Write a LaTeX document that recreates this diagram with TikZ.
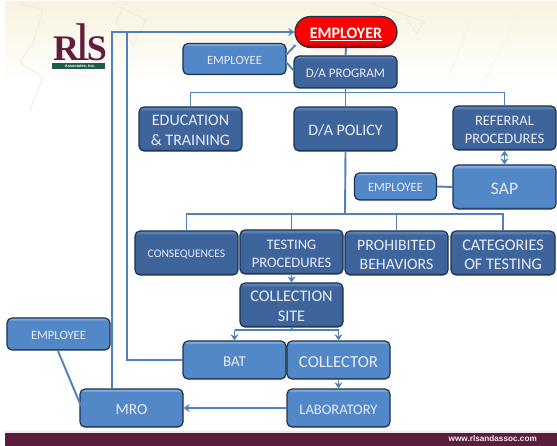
\documentclass[tikz,border=0pt]{standalone}
\usepackage{fontspec}
\setmainfont{Carlito}
\newfontfamily\serifr{Liberation Serif}
\newfontfamily\labelsans{Liberation Sans}
\usetikzlibrary{arrows.meta,shapes.misc}
\definecolor{dkedge}{HTML}{1B324F}
\definecolor{navyA}{HTML}{3D659B}
\definecolor{navyT}{HTML}{5B83B8}
\definecolor{navyB}{HTML}{2C4C78}
\definecolor{blueA}{HTML}{5287C8}
\definecolor{blueT}{HTML}{84ADDC}
\definecolor{blueB}{HTML}{3A6AA6}
\definecolor{linkc}{HTML}{4F81BD}
\definecolor{maroonbar}{HTML}{5C1C3C}
\definecolor{logoc}{HTML}{651B3D}
\definecolor{logog}{HTML}{1E5B48}
\definecolor{creamc}{HTML}{F8F3DF}
\definecolor{mapc}{HTML}{EFE6D8}
\pgfdeclareverticalshading{bevelnavy}{100bp}{color(0bp)=(navyB); color(26bp)=(navyB); color(28bp)=(navyA); color(71bp)=(navyA); color(73bp)=(navyT); color(100bp)=(navyT)}
\pgfdeclareverticalshading{bevelblue}{100bp}{color(0bp)=(blueB); color(26bp)=(blueB); color(28bp)=(blueA); color(71bp)=(blueA); color(73bp)=(blueT); color(100bp)=(blueT)}
\pgfdeclareverticalshading{bevelred}{100bp}{color(0bp)=(red!75!black); color(28bp)=(red!75!black); color(33bp)=(red); color(100bp)=(red)}
\tikzset{
  base/.style={draw=dkedge,line width=1.2pt,rounded corners=5pt,text=white!92!blue,align=center,inner sep=0pt},
  navybox/.style={base,shading=bevelnavy},
  bluebox/.style={base,shading=bevelblue},
  link/.style={draw=linkc,line width=1.9pt},
  tip/.style={link,-{Stealth[length=6pt,width=8pt]}},
  tips/.style={link,{Stealth[length=6pt,width=8pt]}-{Stealth[length=6pt,width=8pt]}},
  mapline/.style={draw=mapc,line width=.6pt},
  mapfaint/.style={draw=mapc!50,line width=.6pt},
}
\newcommand{\bx}[7]{\node[#1,minimum width=#4pt,minimum height=#5pt,#6] (#2) at (#3) {\rule{0pt}{.85em}#7};}
\begin{document}
\begin{tikzpicture}[x=1pt,y=-1pt]
\useasboundingbox (0,0) rectangle (557,446);
\fill[white] (0,0) rectangle (557,446);
\shade[top color=creamc,bottom color=white] (5,2) rectangle (557,85);
\draw[mapline] (20,3)--(43,10)--(33,43)--(20,62)--(43,78)--(30,110);
\draw[mapline] (112,3)--(146,20)--(133,45)--(116,23)--(123,7);
\draw[mapline] (370,3)--(425,22)--(416,33)--(406,17);
\draw[mapfaint] (470,20)--(450,75) (520,10)--(480,90) (230,70)--(250,40);
\fill[maroonbar] (5,433) rectangle (557,446);
\fill[white!90!maroonbar] (5,431) rectangle (557,433);
% logo
\fill[logog] (52,63) rectangle (105,69.5);
\node[inner sep=0pt,text=white,font=\labelsans\bfseries\fontsize{4}{4}\selectfont] (logotag) at (80,66.3) {Associates, Inc.};
\node[inner sep=0pt,anchor=base west,text=logoc,font=\serifr\bfseries\fontsize{36}{36}\selectfont] (logo) at (53,60.5) {R\kern-4pt{\mdseries\fontsize{53}{53}\selectfont l}\kern-3pt S};
\node[inner sep=0pt,text=white!90!gray,font=\labelsans\bfseries\fontsize{8.2}{8}\selectfont,anchor=east] (web) at (537,439) {www.rlsandassoc.com};
% boxes
\node[draw=dkedge,line width=1.2pt,rounded rectangle,shading=bevelred,text=white,inner sep=0pt,minimum width=102pt,minimum height=31pt,font=\bfseries\fontsize{16}{19}\selectfont] (employer) at (346,32) {\rule{0pt}{1em}\underline{EMPLOYER}};
\bx{navybox}{daprog}{345.5,72}{103}{32}{font=\fontsize{13}{15}\selectfont}{D/A PROGRAM}
\bx{bluebox}{emptop}{234.5,59}{103}{31}{font=\fontsize{12.6}{15}\selectfont}{EMPLOYEE}
\bx{navybox}{edu}{190.5,129}{103}{44}{font=\fontsize{16}{19.5}\selectfont}{EDUCATION\\\& TRAINING}
\bx{navybox}{policy}{345.5,129}{103}{44}{font=\fontsize{16}{19}\selectfont}{D/A POLICY}
\bx{navybox}{referral}{504.5,128}{103}{44}{font=\fontsize{14.5}{18}\selectfont}{REFERRAL\\PROCEDURES}
\bx{bluebox}{sap}{504.5,187}{103}{44}{font=\fontsize{17.5}{20}\selectfont}{SAP}
\bx{bluebox}{empmid}{395.5,186.5}{82}{27}{font=\fontsize{12.6}{15}\selectfont}{EMPLOYEE}
\bx{navybox}{conseq}{186.5,253}{103}{44}{font=\fontsize{11.6}{14}\selectfont}{CONSEQUENCES}
\bx{navybox}{testing}{291.5,252}{103}{44}{font=\fontsize{14.5}{18}\selectfont}{TESTING\\PROCEDURES}
\bx{navybox}{prohib}{396.5,253}{103}{44}{font=\fontsize{15.8}{19}\selectfont}{PROHIBITED\\BEHAVIORS}
\bx{navybox}{categ}{503,253}{104}{44}{font=\fontsize{16.2}{19}\selectfont}{CATEGORIES\\OF TESTING}
\bx{navybox}{collsite}{291.5,305}{103}{44}{font=\fontsize{16.2}{20}\selectfont}{COLLECTION\\SITE}
\bx{bluebox}{bat}{234.5,360}{103}{38}{font=\fontsize{15}{18}\selectfont}{BAT}
\bx{bluebox}{collector}{338.5,360}{103}{38}{font=\fontsize{16.8}{19}\selectfont}{COLLECTOR}
\bx{bluebox}{lab}{338.5,408}{103}{38}{font=\fontsize{14.5}{17}\selectfont}{LABORATORY}
\bx{bluebox}{mro}{131.5,408}{103}{38}{font=\fontsize{15.5}{18}\selectfont}{MRO}
\bx{bluebox}{empleft}{58.5,334}{103}{32}{font=\fontsize{12.6}{15}\selectfont}{EMPLOYEE}
% connector waypoints
\coordinate (outer) at (112,32);
\coordinate (inner) at (127,32);
\coordinate (busA) at (345,92.5);
\coordinate (busB) at (345,214);
\coordinate (busC) at (292,330);
\coordinate (etopA) at (286,55);
\coordinate (etopB) at (286,62);
\coordinate (empA) at (295.5,45);
\coordinate (empB) at (294,71);
\coordinate (eleftA) at (58,351);
\coordinate (eleftB) at (81,406);
% connectors
\draw[tip] (outer |- mro.north) -- (outer) -- (employer.west);
\draw[link] (bat.west) -- (inner |- bat.west) -- (inner);
\draw[link] (employer.south) -- (daprog.north);
\draw[link] (etopA) -- (empA);
\draw[link] (etopB) -- (empB);
\draw[link] (daprog.south) -- (policy.north);
\draw[link] (edu.north) -- (edu.north |- busA) -- (referral.north |- busA) -- (referral.north);
\draw[tips] (referral.south) -- (sap.north);
\draw[link] (empmid.east) -- (sap.west);
\draw[link] (policy.south) -- (busB);
\draw[link] (conseq.north) -- (conseq.north |- busB) -- (categ.north |- busB) -- (categ.north);
\draw[link] (testing.north) -- (testing.north |- busB);
\draw[link] (prohib.north) -- (prohib.north |- busB);
\draw[tip] (testing.south) -- (collsite.north);
\draw[link] (collsite.south) -- (busC);
\draw[link] (bat.north |- busC) -- (collector.north |- busC);
\draw[tip] (bat.north |- busC) -- (bat.north);
\draw[tip] (collector.north |- busC) -- (collector.north);
\draw[tip] (collector.south) -- (lab.north);
\draw[tip] (lab.west) -- (mro.east);
\draw[link] (eleftA) -- (eleftB);
\end{tikzpicture}
\end{document}
